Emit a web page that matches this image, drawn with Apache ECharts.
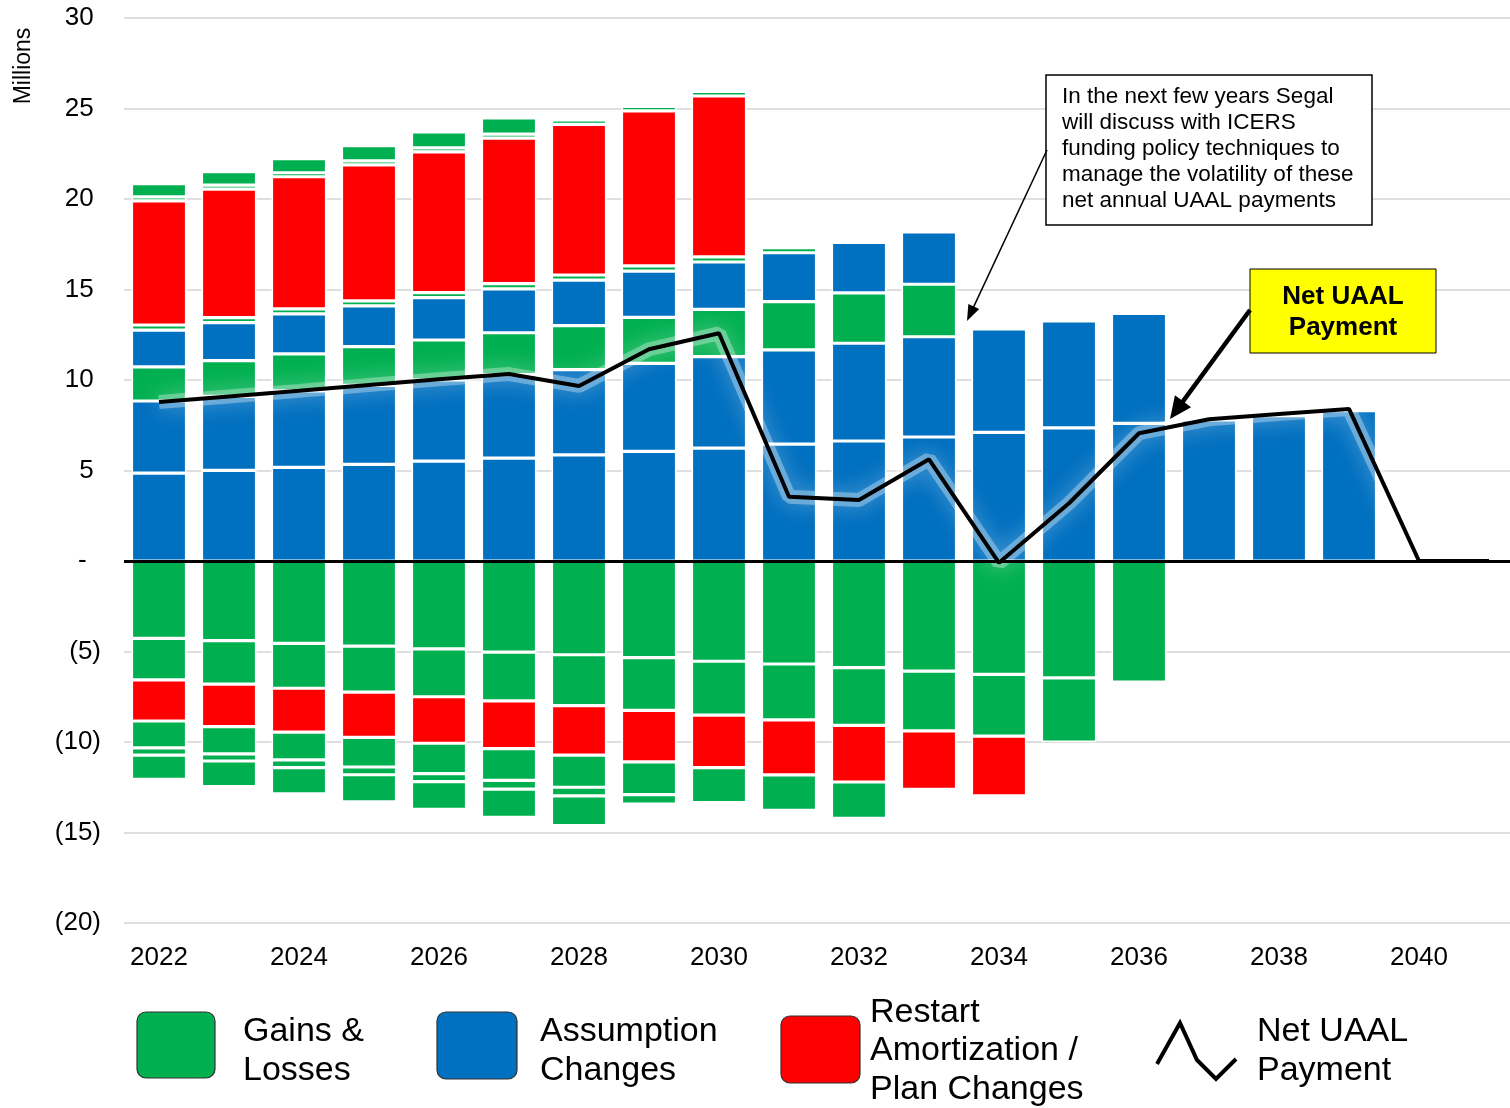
<!DOCTYPE html>
<html>
<head>
<meta charset="utf-8">
<script src="https://cdn.jsdelivr.net/npm/echarts@6/dist/echarts.min.js"></script>
<style>
html,body{margin:0;padding:0;background:#fff;overflow:hidden;}
#chart{width:1524px;height:1108px;}
</style>
</head>
<body>
<div id="chart"></div>
<script>
// ---- categories ----
const years = ['2022','2023','2024','2025','2026','2027','2028','2029','2030','2031',
               '2032','2033','2034','2035','2036','2037','2038','2039','2040','2041'];
// ---- positive layers (bottom -> top), millions ----
const assumpA  = [4.85,5.01,5.17,5.34,5.52,5.68,5.86,6.06,6.24,6.46,6.63,6.85,7.11,7.35,7.60,7.79,8.03,8.30,null,null];
const assumpB  = [3.99,4.09,4.23,4.36,4.48,4.62,4.71,4.86,5.05,5.20,5.40,5.54,5.71,5.91,6.08,null,null,null,null,null];
const gainC    = [1.89,1.97,2.04,2.14,2.21,2.31,2.43,2.54,2.61,2.67,2.78,2.90,null,null,null,null,null,null,null,null];
const assumpD  = [2.03,2.10,2.21,2.25,2.34,2.43,2.52,2.56,2.62,2.70,2.79,2.89,null,null,null,null,null,null,null,null];
const gainE    = [0.28,0.28,0.28,0.28,0.28,0.28,0.28,0.28,0.28,0.28,null,null,null,null,null,null,null,null,null,null];
const restartF = [6.86,7.10,7.30,7.52,7.77,8.04,8.32,8.57,8.89,null,null,null,null,null,null,null,null,null,null,null];
const gainG    = [0.22,0.22,0.22,0.22,0.22,0.22,0.25,0.25,0.25,null,null,null,null,null,null,null,null,null,null,null];
const gainH    = [0.73,0.74,0.78,0.84,0.89,0.90,null,null,null,null,null,null,null,null,null,null,null,null,null,null];
// ---- negative layers (zero -> down) ----
const lossN1    = [-4.27,-4.40,-4.55,-4.70,-4.86,-5.03,-5.18,-5.34,-5.54,-5.69,-5.89,-6.08,-6.26,-6.46,-6.69,null,null,null,null,null];
const lossN2    = [-2.30,-2.40,-2.48,-2.54,-2.64,-2.70,-2.81,-2.91,-2.98,-3.09,-3.19,-3.30,-3.41,-3.54,null,null,null,null,null,null];
const restartN3 = [-2.27,-2.35,-2.42,-2.50,-2.57,-2.64,-2.74,-2.85,-2.90,-3.04,-3.13,-3.23,-3.31,null,null,null,null,null,null,null];
const lossN4    = [-1.49,-1.51,-1.54,-1.64,-1.68,-1.75,-1.77,-1.81,-1.93,-1.95,-2.01,null,null,null,null,null,null,null,null,null];
const lossN5    = [-0.39,-0.39,-0.43,-0.43,-0.44,-0.48,-0.48,-0.52,null,null,null,null,null,null,null,null,null,null,null,null];
const lossN6    = [-1.34,-1.42,-1.45,-1.49,-1.53,-1.56,-1.64,null,null,null,null,null,null,null,null,null,null,null,null,null];
// ---- net UAAL payment ----
const netPayment = [8.78,9.09,9.40,9.72,10.04,10.33,9.67,11.70,12.58,3.55,3.37,5.62,-0.10,3.19,7.06,7.83,8.12,8.40,0,0];
// ---- y tick range ----
const yMin = -20, yMax = 30, yStep = 5;

const GREEN = '#00B050', BLUE = '#0070C0', RED = '#FF0000';
const FONT = '"Liberation Sans", Arial, sans-serif';

function barSeries(name, data, color) {
  return {
    name: name, type: 'bar', stack: 'total', data: data, barWidth: 55,
    itemStyle: { color: color, borderColor: '#ffffff', borderWidth: 1.6 },
    emphasis: { disabled: true }, z: 2
  };
}

function arrow(x1, y1, x2, y2, w, headLen, headW) {
  const dx = x2 - x1, dy = y2 - y1, len = Math.hypot(dx, dy);
  const ux = dx / len, uy = dy / len;
  const bx = x2 - ux * headLen, by = y2 - uy * headLen;
  const nx = -uy, ny = ux;
  return [
    { type: 'line', z: 100, shape: { x1: x1, y1: y1, x2: bx + ux * 2, y2: by + uy * 2 }, style: { stroke: '#000', lineWidth: w } },
    { type: 'polygon', z: 100, shape: { points: [[x2, y2], [bx + nx * headW, by + ny * headW], [bx - nx * headW, by - ny * headW]] }, style: { fill: '#000' } }
  ];
}

function txt(text, x, y, size, opts) {
  opts = opts || {};
  return {
    type: 'text', x: x, y: y, z: 101,
    style: {
      text: text, fill: '#000',
      font: (opts.bold ? 'bold ' : '') + size + 'px ' + FONT,
      align: opts.align || 'left', verticalAlign: 'middle'
    }
  };
}

const graphics = [];
// Millions
graphics.push({ type: 'text', x: 24, y: 66, rotation: Math.PI / 2, z: 101,
  style: { text: 'Millions', fill: '#000', font: '23px ' + FONT, align: 'center', verticalAlign: 'middle' } });
// annotation box
graphics.push({ type: 'rect', z: 99, shape: { x: 1046, y: 75, width: 326, height: 150 }, style: { fill: '#fff', stroke: '#000', lineWidth: 1.5 } });
['In the next few years Segal', 'will discuss with ICERS', 'funding policy techniques to',
 'manage the volatility of these', 'net annual UAAL payments'].forEach(function (t, i) {
  graphics.push(txt(t, 1062, 97 + i * 26, 22.5));
});
arrow(1047, 150, 967, 321, 1.5, 16, 6).forEach(function (g) { graphics.push(g); });
// yellow label
graphics.push({ type: 'rect', z: 99, shape: { x: 1250, y: 269, width: 186, height: 84 }, style: { fill: '#FFFF00', stroke: '#000', lineWidth: 1 } });
graphics.push(txt('Net UAAL', 1343, 297, 26, { bold: true, align: 'center' }));
graphics.push(txt('Payment', 1343, 328, 26, { bold: true, align: 'center' }));
arrow(1250, 310, 1170, 419, 4.5, 22, 10).forEach(function (g) { graphics.push(g); });
// legend
function swatch(x, y, w, h, color) {
  return { type: 'rect', z: 99, shape: { x: x, y: y, width: w, height: h, r: 9 }, style: { fill: color, stroke: '#333', lineWidth: 1.2 } };
}
graphics.push(swatch(137, 1012, 78, 66, GREEN));
graphics.push(txt('Gains &', 243, 1032, 34));
graphics.push(txt('Losses', 243, 1071, 34));
graphics.push(swatch(437, 1012, 80, 67, BLUE));
graphics.push(txt('Assumption', 540, 1032, 34));
graphics.push(txt('Changes', 540, 1071, 34));
graphics.push(swatch(781, 1016, 79, 67, RED));
graphics.push(txt('Restart', 870, 1013, 34));
graphics.push(txt('Amortization /', 870, 1051, 34));
graphics.push(txt('Plan Changes', 870, 1090, 34));
graphics.push({ type: 'polyline', z: 100, shape: { points: [[1157, 1064], [1180, 1023], [1197, 1060], [1216, 1079], [1236, 1059]] },
  style: { stroke: '#000', lineWidth: 4, fill: null } });
graphics.push(txt('Net UAAL', 1257, 1032, 34));
graphics.push(txt('Payment', 1257, 1071, 34));

const chart = echarts.init(document.getElementById('chart'), null, { renderer: 'canvas' });
chart.setOption({
  animation: false,
  backgroundColor: '#ffffff',
  textStyle: { fontFamily: FONT },
  grid: { left: 124, top: 18, right: 0, height: 905, containLabel: false },
  xAxis: {
    type: 'category', data: years,
    axisLine: { show: false, onZero: false },
    axisTick: { show: false },
    axisLabel: { interval: 1, color: '#000', fontSize: 26, fontFamily: FONT, margin: 22 },
    splitLine: { show: false }
  },
  yAxis: {
    type: 'value', min: yMin, max: yMax, interval: yStep,
    axisLine: { show: false }, axisTick: { show: false },
    axisLabel: {
      color: '#000', fontSize: 26, fontFamily: FONT, margin: 23,
      formatter: function (v) {
        if (v === 0) return '-  ';
        if (v < 0) return '(' + (-v) + ')';
        return v + ' ';
      }
    },
    splitLine: { lineStyle: { color: '#d4d4d4', width: 1.5 } }
  },
  series: [
    barSeries('Assumption Changes', assumpA, BLUE),
    barSeries('Assumption Changes B', assumpB, BLUE),
    barSeries('Gains & Losses C', gainC, GREEN),
    barSeries('Assumption Changes D', assumpD, BLUE),
    barSeries('Gains & Losses E', gainE, GREEN),
    barSeries('Restart Amortization / Plan Changes', restartF, RED),
    barSeries('Gains & Losses G', gainG, GREEN),
    barSeries('Gains & Losses H', gainH, GREEN),
    barSeries('Gains & Losses', lossN1, GREEN),
    barSeries('Gains & Losses N2', lossN2, GREEN),
    barSeries('Restart N3', restartN3, RED),
    barSeries('Gains & Losses N4', lossN4, GREEN),
    barSeries('Gains & Losses N5', lossN5, GREEN),
    barSeries('Gains & Losses N6', lossN6, GREEN),
    {
      name: 'glow', type: 'line', data: netPayment, symbol: 'none', z: 8, silent: true,
      lineStyle: { color: 'rgba(255,255,255,0.32)', width: 14, shadowColor: 'rgba(255,255,255,0.95)', shadowBlur: 22 }
    },
    {
      name: 'Net UAAL Payment', type: 'line', data: netPayment, symbol: 'none', z: 10,
      lineStyle: { color: '#000', width: 4 },
      markLine: {
        silent: true, symbol: 'none', label: { show: false },
        lineStyle: { color: '#000', width: 3, type: 'solid' },
        data: [{ yAxis: 0 }], z: 9
      }
    }
  ],
  graphic: graphics
});
</script>
</body>
</html>
